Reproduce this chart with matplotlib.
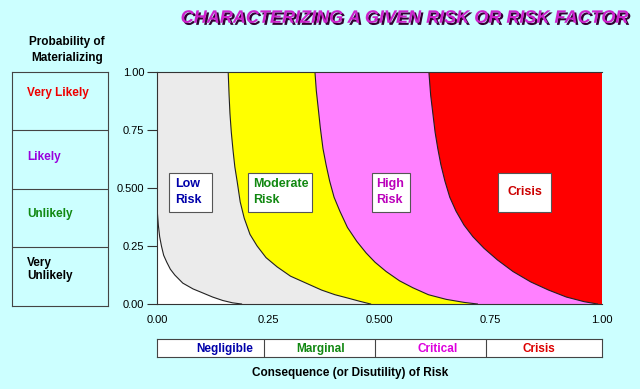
import matplotlib
matplotlib.use('Agg')
import matplotlib.pyplot as plt
import matplotlib.patheffects as pe
from matplotlib.patches import Rectangle

plt.rcParams['font.family'] = ['Liberation Sans', 'DejaVu Sans']

# boundary curves (consequence x, probability y)
low_x = [0.000, 0.0005, 0.001, 0.003, 0.006, 0.010, 0.015, 0.022, 0.030, 0.040,
         0.058, 0.081, 0.100, 0.125, 0.148, 0.170, 0.190]
low_y = [0.49, 0.43, 0.39, 0.34, 0.29, 0.25, 0.21, 0.18, 0.15, 0.125,
         0.09, 0.065, 0.05, 0.03, 0.015, 0.005, 0.0]

moderate_x = [0.160, 0.162, 0.164, 0.167, 0.171, 0.175, 0.180, 0.187, 0.196, 0.209,
              0.225, 0.245, 0.270, 0.300, 0.335, 0.370, 0.400, 0.430, 0.455, 0.480]
moderate_y = [1.00, 0.90, 0.82, 0.74, 0.66, 0.59, 0.53, 0.44, 0.37, 0.30,
              0.25, 0.20, 0.16, 0.12, 0.09, 0.06, 0.04, 0.025, 0.012, 0.0]

high_x = [0.355, 0.358, 0.362, 0.367, 0.373, 0.380, 0.388, 0.398, 0.411, 0.428,
          0.449, 0.470, 0.490, 0.515, 0.545, 0.575, 0.610, 0.650, 0.690, 0.720]
high_y = [1.00, 0.92, 0.85, 0.76, 0.67, 0.60, 0.53, 0.46, 0.40, 0.33,
          0.27, 0.22, 0.18, 0.14, 0.10, 0.07, 0.04, 0.02, 0.007, 0.0]

crisis_x = [0.611, 0.615, 0.620, 0.625, 0.631, 0.638, 0.647, 0.658, 0.672, 0.690,
            0.710, 0.735, 0.765, 0.800, 0.840, 0.880, 0.920, 0.960, 0.990]
crisis_y = [1.00, 0.90, 0.82, 0.74, 0.67, 0.60, 0.53, 0.46, 0.40, 0.34,
            0.29, 0.24, 0.19, 0.14, 0.095, 0.06, 0.03, 0.01, 0.0]

tick_vals = [0.0, 0.25, 0.5, 0.75, 1.0]
tick_labels = ['0.00', '0.25', '0.500', '0.75', '1.00']

prob_labels = ['Very\nUnlikely', 'Unlikely', 'Likely', 'Very Likely']
prob_colors = ['#000000', '#118811', '#9900dd', '#ee0000']

cons_labels = ['Negligible', 'Marginal', 'Critical', 'Crisis']
cons_colors = ['#0000aa', '#118811', '#dd00dd', '#dd0000']
cons_edges = [0.0, 0.24, 0.49, 0.74, 1.0]

bg = '#ccffff'
fig = plt.figure(figsize=(6.4, 3.89), dpi=100, facecolor=bg)

# main chart
ax = fig.add_axes([0.2453, 0.2185, 0.6953, 0.5964])
ax.set_xlim(0, 1)
ax.set_ylim(0, 1)
ax.set_facecolor('#ff0000')

ax.fill([0, 0] + crisis_x, [0, 1] + crisis_y, color='#ff80ff', lw=0)
ax.fill([0, 0] + high_x, [0, 1] + high_y, color='#ffff00', lw=0)
ax.fill([0, 0] + moderate_x, [0, 1] + moderate_y, color='#ebebeb', lw=0)
ax.fill([0] + low_x, [0] + low_y, color='white', lw=0)
for cx, cy in [(low_x, low_y), (moderate_x, moderate_y), (high_x, high_y), (crisis_x, crisis_y)]:
    ax.plot(cx, cy, color='#222222', lw=0.8)

for s in ax.spines.values():
    s.set_color('#333333')
    s.set_linewidth(0.8)
ax.spines['right'].set_visible(False)

ax.set_xticks(tick_vals)
ax.set_xticklabels(tick_labels, fontsize=8)
ax.set_yticks(tick_vals)
ax.set_yticklabels(tick_labels, fontsize=8)
ax.tick_params(axis='x', length=0, pad=8)
ax.tick_params(axis='y', length=7, width=0.8, color='#333333', pad=2)

# region boxes
boxes = [
    (0.027, 0.124, 'Low\nRisk', '#0000aa', 'left', 0.040),
    (0.205, 0.348, 'Moderate\nRisk', '#118811', 'left', 0.216),
    (0.483, 0.569, 'High\nRisk', '#bb00bb', 'left', 0.492),
    (0.766, 0.886, 'Crisis', '#cc0000', 'center', 0.826),
]
for x0, x1, txt, col, ha, tx in boxes:
    ax.add_patch(Rectangle((x0, 0.397), x1 - x0, 0.168, facecolor='white',
                           edgecolor='#555555', lw=0.8, zorder=5))
    ax.text(tx, 0.481, txt, color=col, fontsize=9, fontweight='bold', ha=ha,
            va='center', linespacing=1.45, zorder=6)

# left probability panel
axl = fig.add_axes([0.01875, 0.2135, 0.15, 0.6014])
axl.set_xlim(0, 1)
axl.set_ylim(0, 1)
axl.set_facecolor(bg)
axl.set_xticks([])
axl.set_yticks([])
for s in axl.spines.values():
    s.set_color('#444444')
    s.set_linewidth(0.8)
for k in range(1, 4):
    axl.axhline(k * 0.25, color='#444444', lw=0.8)
prob_text_y = [0.157, 0.391, 0.638, 0.911]
for ty, lab, col in zip(prob_text_y, prob_labels, prob_colors):
    axl.text(0.16, ty, lab, color=col, fontsize=8.5, fontweight='bold',
             ha='left', va='center', linespacing=1.1)

# bottom consequence panel
axb = fig.add_axes([0.2453, 0.0823, 0.6953, 0.0463])
axb.set_xlim(0, 1)
axb.set_ylim(0, 1)
axb.set_facecolor('white')
axb.set_xticks([])
axb.set_yticks([])
for s in axb.spines.values():
    s.set_color('#444444')
    s.set_linewidth(0.8)
for e in cons_edges[1:-1]:
    axb.axvline(e, color='#444444', lw=0.8)
cons_pos = [0.153, 0.368, 0.630, 0.859]
for p, lab, col in zip(cons_pos, cons_labels, cons_colors):
    axb.text(p, 0.45, lab, color=col, fontsize=8.5, fontweight='bold', ha='center', va='center')

fig.text(0.547, 0.041, 'Consequence (or Disutility) of Risk', fontsize=8.5,
         fontweight='bold', ha='center', va='center')
fig.text(0.105, 0.872, 'Probability of\nMaterializing', fontsize=8.5, fontweight='bold',
         ha='center', va='center', linespacing=1.5)

fig.text(0.631, 0.953, 'CHARACTERIZING A GIVEN RISK OR RISK FACTOR', fontsize=13,
         fontweight='bold', fontstyle='italic', color='#cc22cc', ha='center', va='center',
         path_effects=[pe.SimplePatchShadow(offset=(1.5, -1.5), shadow_rgbFace='#330033',
                                            alpha=1.0), pe.Normal()])

fig.savefig('out.png', dpi=100, facecolor=bg)
